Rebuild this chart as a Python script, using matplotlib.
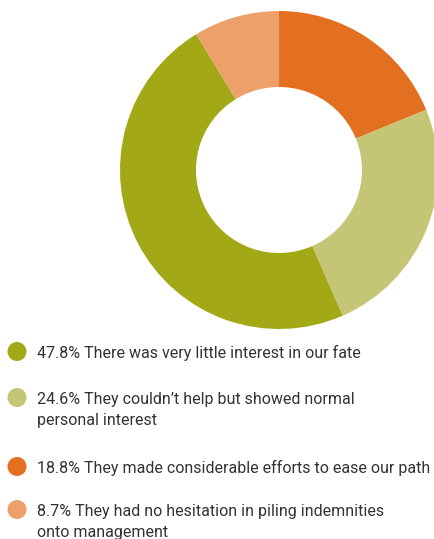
import matplotlib
matplotlib.use("Agg")
import matplotlib.pyplot as plt
from matplotlib.patches import Circle

# shares, in clockwise order from the top of the ring
ring_values = [18.8, 24.6, 47.8, 8.7]
ring_colors = ["#E37021", "#C4C675", "#A3A817", "#EEA06B"]

# legend rows (top to bottom), one list of lines per row
legend_values = [47.8, 24.6, 18.8, 8.7]
legend_colors = ["#A3A817", "#C4C675", "#E37021", "#EEA06B"]
legend_lines = [
    ["There was very little interest in our fate"],
    ["They couldn\u2019t help but showed normal", "personal interest"],
    ["They made considerable efforts to ease our path"],
    ["They had no hesitation in piling indemnities", "onto management"],
]

W, H = 435, 539
fig = plt.figure(figsize=(W / 100, H / 100), dpi=100)

# donut
cx, cy, r = 279, 170, 159
ax = fig.add_axes([(cx - r) / W, (H - cy - r) / H, 2 * r / W, 2 * r / H])
ax.pie(ring_values, colors=ring_colors, startangle=90, counterclock=False,
       radius=1, wedgeprops=dict(width=1 - 83 / 159, linewidth=0))
ax.set_xlim(-1, 1)
ax.set_ylim(-1, 1)
ax.set_aspect("equal")
ax.axis("off")

# legend in pixel coordinates
lg = fig.add_axes([0, 0, 1, 1])
lg.set_xlim(0, W)
lg.set_ylim(H, 0)
lg.axis("off")

baselines = [358, 404, 473, 516]
for b, v, c, lines in zip(baselines, legend_values, legend_colors, legend_lines):
    lg.add_patch(Circle((17, b - 6.5), 9.5, color=c, linewidth=0))
    for i, line in enumerate(lines):
        s = f"{v}% {line}" if i == 0 else line
        lg.text(37, b + 21 * i, s, fontsize=11.5, color="#333333",
                family="Roboto", va="baseline", ha="left")

fig.savefig("out.png", dpi=100)
